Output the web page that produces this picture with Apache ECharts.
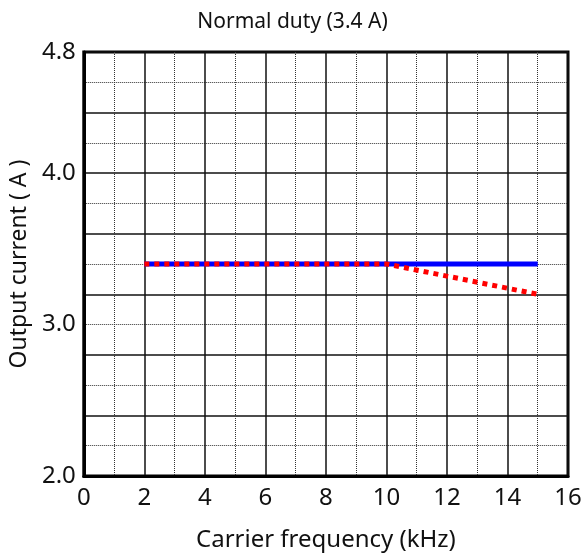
<!DOCTYPE html>
<html>
<head>
<meta charset="utf-8">
<script src="https://cdn.jsdelivr.net/npm/echarts@6/dist/echarts.min.js"></script>
<style>
  html, body { margin: 0; padding: 0; background: #fff; }
  #chart { width: 585px; height: 559px; }
</style>
</head>
<body>
<div id="chart"></div>
<script>
// Carrier frequency breakpoints (kHz) and output current (A)
const carrierKHz = [2, 10, 15];
const ratedCurrent = [3.4, 3.4, 3.4];
const deratedCurrent = [3.4, 3.4, 3.2];
const yLabelValues = [2.0, 3.0, 4.0, 4.8];

const FONT = '"Noto Sans", "DejaVu Sans", sans-serif';
const pairs = (xs, ys) => xs.map((x, i) => [x, ys[i]]);

const chart = echarts.init(document.getElementById('chart'), null, { renderer: 'canvas' });
chart.setOption({
  animation: false,
  title: {
    text: 'Normal duty (3.4 A)',
    left: 'center', top: 7,
    textStyle: { fontFamily: FONT, fontSize: 21, fontWeight: 'normal', color: '#111' }
  },
  grid: {
    left: 82, right: 17, top: 52, bottom: 83,
    show: true, borderColor: '#000', borderWidth: 3, backgroundColor: '#fff'
  },
  xAxis: {
    type: 'value', min: 0, max: 16, interval: 2,
    name: 'Carrier frequency (kHz)', nameLocation: 'middle', nameGap: 52,
    nameTextStyle: { fontFamily: FONT, fontSize: 24, color: '#111' },
    axisLine: { show: true, lineStyle: { color: '#000', width: 3 } },
    axisTick: { show: false },
    axisLabel: { fontFamily: FONT, fontSize: 24, color: '#111', margin: 10 },
    splitLine: { show: true, lineStyle: { color: '#111', width: 1.5 } },
    minorTick: { show: false, splitNumber: 2 },
    minorSplitLine: { show: true, lineStyle: { color: '#333', width: 1, type: [1, 1] } }
  },
  yAxis: [
    {
      type: 'value', min: 2.0, max: 4.8, interval: 0.4,
      axisLine: { show: true, lineStyle: { color: '#000', width: 3 } },
      axisTick: { show: false },
      axisLabel: { show: false },
      splitLine: { show: true, lineStyle: { color: '#111', width: 1.5 } },
      minorTick: { show: false, splitNumber: 2 },
      minorSplitLine: { show: true, lineStyle: { color: '#333', width: 1, type: [1, 1] } }
    },
    {
      type: 'value', min: 2.0, max: 4.8, interval: 0.2, position: 'left',
      name: 'Output current ( A )', nameLocation: 'middle', nameGap: 49,
      nameTextStyle: { fontFamily: FONT, fontSize: 23, color: '#111' },
      axisLine: { show: false },
      axisTick: { show: false },
      splitLine: { show: false },
      axisLabel: {
        fontFamily: FONT, fontSize: 24, color: '#111', margin: 8,
        formatter: v => yLabelValues.some(t => Math.abs(t - v) < 1e-6) ? v.toFixed(1) : ''
      }
    }
  ],
  series: [
    {
      type: 'line', yAxisIndex: 0, symbol: 'none',
      data: pairs(carrierKHz, ratedCurrent),
      lineStyle: { color: '#0000ff', width: 5 }, z: 3
    },
    {
      type: 'line', yAxisIndex: 0, symbol: 'none',
      data: pairs(carrierKHz, deratedCurrent),
      lineStyle: { color: '#ff0000', width: 5, type: [5, 5], cap: 'butt' }, z: 4
    }
  ]
});
</script>
</body>
</html>
